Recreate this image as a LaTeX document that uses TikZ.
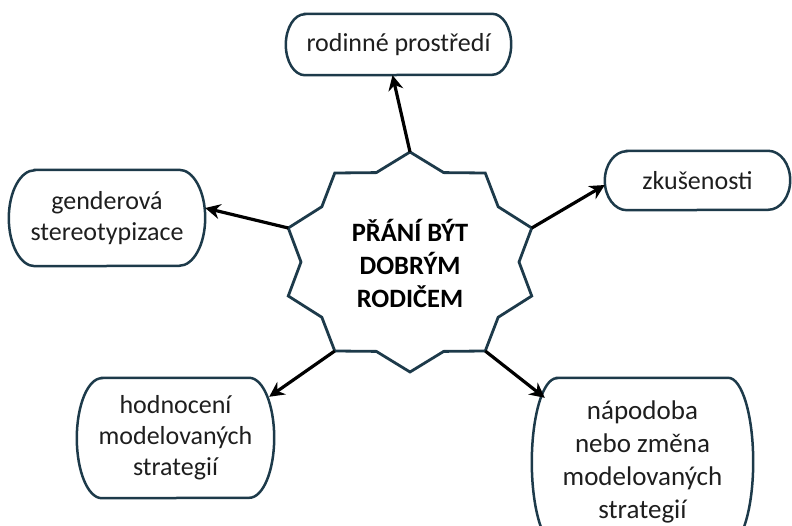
\documentclass[tikz,border=0pt]{standalone}
\usepackage{fontspec}
\setmainfont{Carlito}
\usetikzlibrary{arrows.meta}

\definecolor{rim}{HTML}{1D3A4A}
\definecolor{ink}{HTML}{1E1E1E}

% outline with half-ellipse ends: node, end width, half height
\newcommand{\ovalline}[3]{%
  \draw[rim, line width=2.5pt]
    ([xshift=#2pt]#1.north west) -- ([xshift=-#2pt]#1.north east)
    arc[start angle=90, end angle=-90, x radius=#2, y radius=#3]
    -- ([xshift=#2pt]#1.south west)
    arc[start angle=270, end angle=90, x radius=#2, y radius=#3] -- cycle;
}

\begin{document}
\begin{tikzpicture}[x=1pt, y=1pt, >={Stealth[length=15pt, width=15pt]},
    oval/.style={align=center, inner sep=0pt, text=ink,
      font=\fontsize{26}{31}\selectfont},
    arr/.style={->, line width=3.2pt, black}]
    \useasboundingbox (0,0) rectangle (792,-526);

    % the star round the wish
    \begin{scope}[shift={(410,-262)}]
        \draw[rim, line width=2.8pt, line join=miter] (90:128 and 110)
            \foreach \k in {1,...,9} { -- (108-36*\k:109 and 94) -- (90-36*\k:128 and 110) }
            -- (108:109 and 94) -- cycle;
        \foreach \k in {0,...,9}
            \coordinate (tip\k) at (90-36*\k:128 and 110);
    \end{scope}
    \node (wish) [align=center, font=\bfseries\fontsize{26.5}{33}\selectfont] at (410,-263) {PŘÁNÍ BÝT\\DOBRÝM\\RODIČEM};

    \node (family) [oval, minimum width=225pt, minimum height=61pt] at (398.5,-44.5) {rodinné prostředí};
    \node (exp) [oval, minimum width=185pt, minimum height=59pt] at (697.5,-180.5) {zkušenosti};
    \node (gender) [oval, minimum width=196pt, minimum height=96pt] at (107,-218) {genderová\\stereotypizace};
    \node (eval) [oval, minimum width=197pt, minimum height=120pt] at (175.5,-438) {hodnocení\\modelovaných\\strategií};
    \node (imit) [oval, minimum width=221pt, minimum height=168pt, font=\fontsize{27}{33}\selectfont] at (642.5,-462) {nápodoba\\nebo změna\\modelovaných\\strategií};

    \ovalline{family}{19}{30.5}
    \ovalline{exp}{22}{29.5}
    \ovalline{gender}{26}{48}
    \ovalline{eval}{25}{60}
    \ovalline{imit}{25}{84}

    \draw[arr] (tip0) -- ([xshift=-6pt]family.south);
    \draw[arr] (tip2) -- ([yshift=-4.5pt]exp.west);
    \draw[arr] (tip4) -- ([shift={(13pt,-20pt)}]imit.north west);
    \draw[arr] (tip6) -- ([shift={(-5pt,-19pt)}]eval.north east);
    \draw[arr] (tip8) -- ([yshift=10pt]gender.east);
\end{tikzpicture}
\end{document}
